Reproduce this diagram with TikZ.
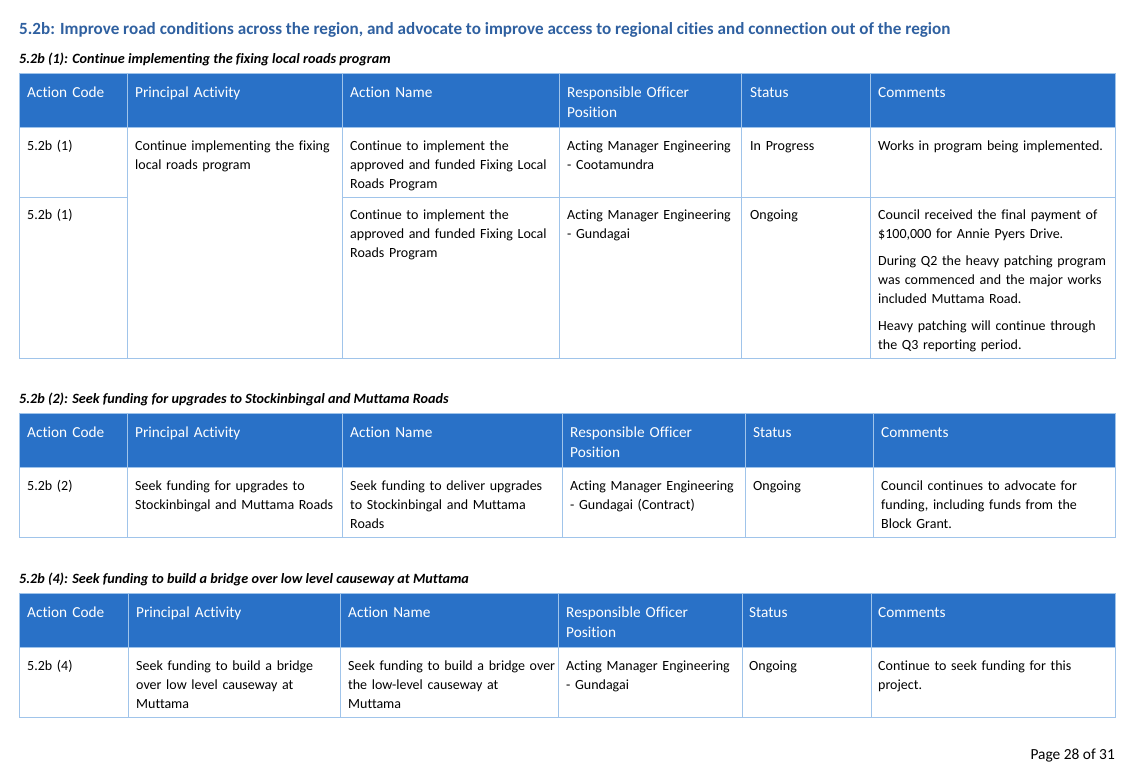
\documentclass[tikz,border=0pt]{standalone}
\usepackage{fontspec}
\setmainfont{Carlito}[Ligatures={NoCommon}]
\usepackage{xcolor}
\usepackage{tikz}

\definecolor{titleblue}{RGB}{47,96,160}
\definecolor{hdrblue}{RGB}{41,113,199}
\definecolor{gridblue}{RGB}{160,196,234}

\tikzset{
  gridline/.style={draw=gridblue, line width=0.9pt},
  hdrtext/.style={anchor=north west, inner sep=0pt, align=left, text=white, text width=200pt,
    font=\fontsize{15.3}{20}\selectfont, execute at begin node=\strut},
  celltext/.style={anchor=north west, inner sep=0pt, align=left, text width=240pt,
    font=\fontsize{14}{19}\selectfont, execute at begin node=\strut},
  subhead/.style={anchor=base west, inner sep=0pt,
    font=\fontsize{14.2}{17}\selectfont\bfseries\itshape},
}

\begin{document}
\begin{tikzpicture}[x=1pt,y=-1pt]
    \useasboundingbox (0,0) rectangle (1134,782);
    % page heading
    \node[anchor=base west, inner sep=0pt, text=titleblue, font=\fontsize{17.1}{20}\selectfont\bfseries] (title) at (19,34.5) {5.2b: Improve road conditions across the region, and advocate to improve access to regional cities and connection out of the region};

    % table 1
    \node[subhead] (sub1) at (19,63) {5.2b (1): Continue implementing the fixing local roads program};
    \fill[hdrblue] (19,73) rectangle (1115,127);
    \draw[gridline] (19,73) rectangle (1115,358);
    \draw[gridline] (19,127) -- (1115,127);
    \draw[gridline] (19,197) -- (127,197);
    \draw[gridline] (342,197) -- (1115,197);
    \draw[gridline] (127,73) -- (127,358);
    \draw[gridline] (342,73) -- (342,358);
    \draw[gridline] (559,73) -- (559,358);
    \draw[gridline] (741,73) -- (741,358);
    \draw[gridline] (870,73) -- (870,358);
    \node[hdrtext] (t1code) at (27,83) {Action Code};
    \node[hdrtext] (t1act) at (135,83) {Principal Activity};
    \node[hdrtext] (t1name) at (350,83) {Action Name};
    \node[hdrtext] (t1off) at (567,83) {Responsible Officer\\Position};
    \node[hdrtext] (t1stat) at (750,83) {Status};
    \node[hdrtext] (t1com) at (878,83) {Comments};
    \node[celltext] (t1acode) at (27,137) {5.2b (1)};
    \node[celltext] (t1aact) at (135,137) {Continue implementing the fixing\\local roads program};
    \node[celltext] (t1aname) at (350,137) {Continue to implement the\\approved and funded Fixing Local\\Roads Program};
    \node[celltext] (t1aoff) at (567,137) {Acting Manager Engineering\\- Cootamundra};
    \node[celltext] (t1astat) at (750,137) {In Progress};
    \node[celltext] (t1acom) at (878,137) {Works in program being implemented.};
    \node[celltext] (t1bcode) at (27,206) {5.2b (1)};
    \node[celltext] (t1bname) at (350,206) {Continue to implement the\\approved and funded Fixing Local\\Roads Program};
    \node[celltext] (t1boff) at (567,206) {Acting Manager Engineering\\- Gundagai};
    \node[celltext] (t1bstat) at (750,206) {Ongoing};
    \node[celltext] (t1bcom) at (878,206) {Council received the final payment of\\\$100,000 for Annie Pyers Drive.\\[8pt]During Q2 the heavy patching program\\was commenced and the major works\\included Muttama Road.\\[8pt]Heavy patching will continue through\\the Q3 reporting period.};

    % table 2
    \node[subhead] (sub2) at (19,403) {5.2b (2): Seek funding for upgrades to Stockinbingal and Muttama Roads};
    \fill[hdrblue] (19,413) rectangle (1115,467);
    \draw[gridline] (19,413) rectangle (1115,537);
    \draw[gridline] (19,467) -- (1115,467);
    \draw[gridline] (127,413) -- (127,537);
    \draw[gridline] (342,413) -- (342,537);
    \draw[gridline] (562,413) -- (562,537);
    \draw[gridline] (745,413) -- (745,537);
    \draw[gridline] (873,413) -- (873,537);
    \node[hdrtext] (t2code) at (27,423) {Action Code};
    \node[hdrtext] (t2act) at (135,423) {Principal Activity};
    \node[hdrtext] (t2name) at (350,423) {Action Name};
    \node[hdrtext] (t2off) at (570,423) {Responsible Officer\\Position};
    \node[hdrtext] (t2stat) at (753,423) {Status};
    \node[hdrtext] (t2com) at (881,423) {Comments};
    \node[celltext] (t2acode) at (27,477) {5.2b (2)};
    \node[celltext] (t2aact) at (135,477) {Seek funding for upgrades to\\Stockinbingal and Muttama Roads};
    \node[celltext] (t2aname) at (350,477) {Seek funding to deliver upgrades\\to Stockinbingal and Muttama\\Roads};
    \node[celltext] (t2aoff) at (570,477) {Acting Manager Engineering\\- Gundagai (Contract)};
    \node[celltext] (t2astat) at (753,477) {Ongoing};
    \node[celltext] (t2acom) at (881,477) {Council continues to advocate for\\funding, including funds from the\\Block Grant.};

    % table 3
    \node[subhead] (sub3) at (19,583) {5.2b (4): Seek funding to build a bridge over low level causeway at Muttama};
    \fill[hdrblue] (19,593) rectangle (1115,647);
    \draw[gridline] (19,593) rectangle (1115,717);
    \draw[gridline] (19,647) -- (1115,647);
    \draw[gridline] (128,593) -- (128,717);
    \draw[gridline] (340,593) -- (340,717);
    \draw[gridline] (558,593) -- (558,717);
    \draw[gridline] (742,593) -- (742,717);
    \draw[gridline] (871,593) -- (871,717);
    \node[hdrtext] (t3code) at (27,603) {Action Code};
    \node[hdrtext] (t3act) at (136,603) {Principal Activity};
    \node[hdrtext] (t3name) at (348,603) {Action Name};
    \node[hdrtext] (t3off) at (566,603) {Responsible Officer\\Position};
    \node[hdrtext] (t3stat) at (749,603) {Status};
    \node[hdrtext] (t3com) at (878,603) {Comments};
    \node[celltext] (t3acode) at (27,657) {5.2b (4)};
    \node[celltext] (t3aact) at (136,657) {Seek funding to build a bridge\\over low level causeway at\\Muttama};
    \node[celltext] (t3aname) at (348,657) {Seek funding to build a bridge over\\the low-level causeway at\\Muttama};
    \node[celltext] (t3aoff) at (566,657) {Acting Manager Engineering\\- Gundagai};
    \node[celltext] (t3astat) at (749,657) {Ongoing};
    \node[celltext] (t3acom) at (878,657) {Continue to seek funding for this\\project.};

    % footer
    \node[anchor=base east, inner sep=0pt, font=\fontsize{15.4}{18}\selectfont] (page) at (1115,759) {Page 28 of 31};
\end{tikzpicture}
\end{document}
